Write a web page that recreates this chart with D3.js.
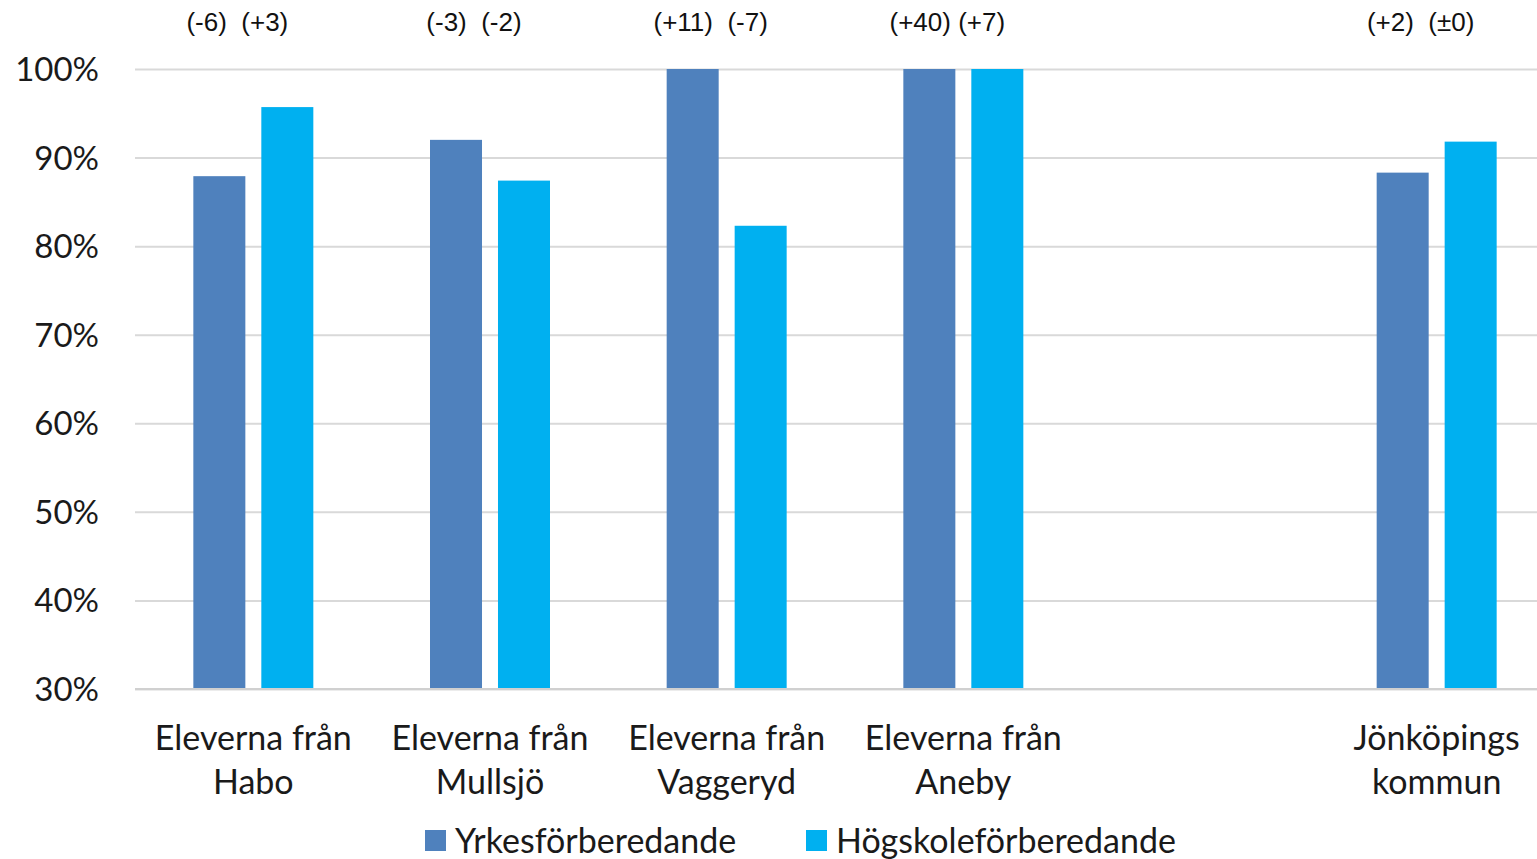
<!DOCTYPE html>
<html>
<head>
<meta charset="utf-8">
<script src="https://cdn.jsdelivr.net/npm/d3@7"></script>
<style>
  html, body { margin: 0; padding: 0; background: #fff; overflow: hidden; }
  svg { display: block; }
</style>
</head>
<body>
<div id="chart"></div>
<script>
// Grouped bar chart: share of students (Yrkes- vs Högskoleförberedande), 30-100% axis.
// The empty category keeps the gap between Aneby and Jönköpings kommun.

const categories = ["Eleverna från\nHabo", "Eleverna från\nMullsjö", "Eleverna från\nVaggeryd",
                    "Eleverna från\nAneby", " ", "Jönköpings\nkommun"];
const series = ["Yrkesförberedande", "Högskoleförberedande"];
const yrkesValues = [87.9, 92.0, 100, 100, null, 88.3];
const hogskoleValues = [95.7, 87.4, 82.3, 100, null, 91.8];
const changeLabels = ["(-6)  (+3)", "(-3)  (-2)", "(+11)  (-7)", "(+40) (+7)", "", "(+2)  (±0)"];
const yTicks = [30, 40, 50, 60, 70, 80, 90, 100];

const colors = { "Yrkesförberedande": "#4f81bd", "Högskoleförberedande": "#00b0f0" };

const width = 1537, height = 859;
const plot = { left: 135, right: 1555, top: 69, bottom: 689 };
const labelFont = "Lato, 'Open Sans', sans-serif";

const svg = d3.select("#chart")
  .append("svg")
    .attr("width", width)
    .attr("height", height);

// Scales
const x0 = d3.scaleBand()
  .domain(categories)
  .range([plot.left, plot.right])
  .paddingInner(0.493)
  .paddingOuter(0.2465);

const x1 = d3.scaleBand()
  .domain(series)
  .range([0, x0.bandwidth()])
  .paddingInner(0.235);

const y = d3.scaleLinear()
  .domain([30, 100])
  .range([plot.bottom, plot.top]);

// Gridlines
svg.append("g")
  .attr("class", "grid")
  .attr("transform", `translate(${plot.left},0)`)
  .call(d3.axisLeft(y).tickValues(yTicks).tickSize(-(width - plot.left)).tickFormat(""))
  .call(g => g.select(".domain").remove())
  .call(g => g.selectAll("line")
    .attr("stroke", "#d9d9d9")
    .attr("stroke-width", 2));

// Y axis labels
svg.append("g")
  .attr("class", "y-axis")
  .attr("transform", `translate(99,0)`)
  .call(d3.axisLeft(y).tickValues(yTicks).tickSize(0).tickFormat(d => d + "%"))
  .call(g => g.select(".domain").remove())
  .selectAll("text")
    .attr("x", 0)
    .attr("dy", "0.35em")
    .style("font-family", labelFont)
    .style("font-size", "33px")
    .style("fill", "#1a1a1a");

// Bars
const rows = categories.map((c, i) => ({
  cat: c,
  values: [
    { key: series[0], value: yrkesValues[i] },
    { key: series[1], value: hogskoleValues[i] }
  ]
}));

const groups = svg.selectAll(".group")
  .data(rows)
  .enter()
  .append("g")
    .attr("class", "group")
    .attr("transform", d => `translate(${x0(d.cat)},0)`);

groups.selectAll("rect")
  .data(d => d.values.filter(v => v.value != null))
  .enter()
  .append("rect")
    .attr("x", d => x1(d.key))
    .attr("width", x1.bandwidth())
    .attr("y", d => y(d.value))
    .attr("height", d => y(30) - y(d.value))
    .attr("fill", d => colors[d.key]);

// Baseline redrawn over bars
svg.append("line")
  .attr("x1", plot.left).attr("x2", width)
  .attr("y1", y(30)).attr("y2", y(30))
  .attr("stroke", "#d0d0d0")
  .attr("stroke-width", 2);

// Change labels at top
svg.selectAll(".change")
  .data(categories.map((c, i) => ({ cat: c, text: changeLabels[i] })))
  .enter()
  .append("text")
    .attr("class", "change")
    .attr("x", d => x0(d.cat) + x0.bandwidth() / 2 - 16)
    .attr("y", 31)
    .attr("text-anchor", "middle")
    .style("white-space", "pre")
    .style("font-family", "'Liberation Sans', Arial, sans-serif")
    .style("font-size", "26px")
    .style("fill", "#111")
    .text(d => d.text);

// Category labels
const catLabels = svg.selectAll(".cat-label")
  .data(categories)
  .enter()
  .append("text")
    .attr("class", "cat-label")
    .attr("x", d => x0(d) + x0.bandwidth() / 2)
    .attr("y", 750)
    .attr("text-anchor", "middle")
    .style("font-family", labelFont)
    .style("font-size", "34px")
    .style("fill", "#1a1a1a");

catLabels.selectAll("tspan")
  .data(d => d.split("\n"))
  .enter()
  .append("tspan")
    .attr("x", function() { return d3.select(this.parentNode).attr("x"); })
    .attr("dy", (d, i) => i === 0 ? 0 : 44)
    .text(d => d);

// Legend
const legendX = [425, 806];
const legend = svg.selectAll(".legend")
  .data(series)
  .enter()
  .append("g")
    .attr("class", "legend")
    .attr("transform", (d, i) => `translate(${legendX[i]},830)`);

legend.append("rect")
  .attr("width", 21)
  .attr("height", 21)
  .attr("fill", d => colors[d]);

legend.append("text")
  .attr("x", 30)
  .attr("y", 11)
  .attr("dy", "0.35em")
  .style("font-family", labelFont)
  .style("font-size", "34px")
  .style("fill", "#1a1a1a")
  .text(d => d);
</script>
</body>
</html>
